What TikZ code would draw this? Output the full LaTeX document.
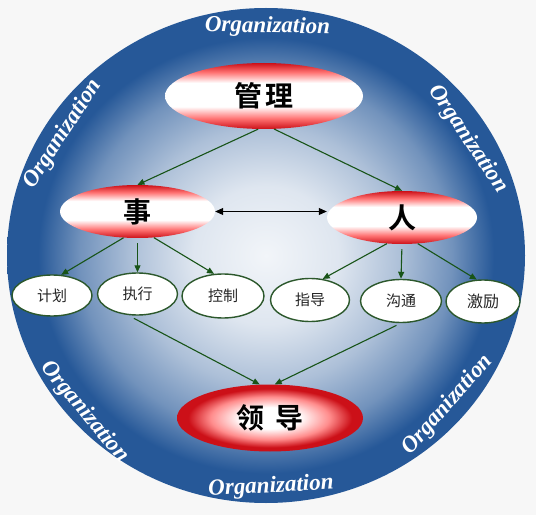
\documentclass[tikz,border=0pt]{standalone}
\usepackage{fontspec}
\usetikzlibrary{shapes.geometric}
\usetikzlibrary{arrows.meta}
\newfontfamily\cjk{Noto Sans CJK SC}
\newfontfamily\cjkbf{Noto Sans CJK SC Bold}
\newfontfamily\orgfont{Liberation Serif}

\definecolor{ringblue}{RGB}{38,88,152}
\definecolor{deepred}{RGB}{204,16,24}
\definecolor{linkgreen}{RGB}{24,84,24}
\definecolor{rimgreen}{RGB}{44,88,44}
\definecolor{bggray}{RGB}{247,247,247}

\pgfdeclareradialshading{globe}{\pgfpoint{0bp}{0bp}}{color(0bp)=(white!94!ringblue); color(7bp)=(white!85!ringblue); color(13bp)=(white!62!ringblue); color(18bp)=(white!35!ringblue); color(22bp)=(ringblue); color(25bp)=(ringblue); color(50bp)=(ringblue)}
\pgfdeclareverticalshading{redband}{100bp}{color(0bp)=(deepred); color(25bp)=(deepred); color(33bp)=(red!55!white); color(42bp)=(white); color(60bp)=(white); color(68bp)=(red!55!white); color(75bp)=(deepred); color(100bp)=(deepred)}
\pgfdeclareradialshading{redglow}{\pgfpoint{0bp}{0bp}}{color(0bp)=(white); color(8bp)=(white); color(16bp)=(red!45!white); color(22bp)=(deepred); color(25bp)=(deepred); color(50bp)=(deepred)}

\tikzset{
  bigoval/.style={ellipse, shade, shading=redband, inner sep=0pt, font=\cjkbf\fontsize{28}{28}\selectfont},
  leafoval/.style={ellipse, draw=rimgreen, line width=1.4pt, fill=white, inner sep=0pt, text=black!85, font=\cjk\fontsize{15}{15}\selectfont},
  link/.style={linkgreen, line width=1.1pt, -{Triangle[length=7pt,width=6pt]}},
  orglabel/.style={text=white, font=\orgfont\bfseries\itshape\fontsize{23}{23}\selectfont}
}

\begin{document}
\begin{tikzpicture}[x=1pt,y=1pt]
\useasboundingbox (0,0) rectangle (536,515);
\fill[bggray] (0,0) rectangle (536,515);
\shade[shading=globe] (266,259.5) ellipse (259 and 247.5);

\node[orglabel, rotate=-1] (orgtop) at (267.5,488) {Organization};
\node[orglabel, rotate=57] (orgul) at (63,381) {Organization};
\node[orglabel, rotate=-56] (orgur) at (468,376) {Organization};
\node[orglabel, rotate=-50] (orgll) at (84.5,103) {Organization};
\node[orglabel, rotate=48.5] (orglr) at (447.5,110) {Organization};
\node[orglabel, rotate=3] (orgbot) at (271,28) {Organization};

\node[bigoval, minimum width=198pt, minimum height=66pt] (guanli) at (264,419) {管\hspace{3pt}理};
\node[bigoval, minimum width=155pt, minimum height=53pt] (shi) at (137.5,303.5) {事};
\node[bigoval, minimum width=150pt, minimum height=53pt] (ren) at (402,297.5) {人};
\node[bigoval, shading=redglow, minimum width=186pt, minimum height=67pt] (lingdao) at (270,97) {领\hspace{11pt}导};

\node[leafoval, minimum width=80pt, minimum height=41pt] (jihua) at (52,219.5) {计划};
\node[leafoval, minimum width=80pt, minimum height=42pt] (zhixing) at (137.5,221) {执行};
\node[leafoval, minimum width=82pt, minimum height=44pt] (kongzhi) at (223,219) {控制};
\node[leafoval, minimum width=79pt, minimum height=43pt] (zhidao) at (310,215) {指导};
\node[leafoval, minimum width=81pt, minimum height=43pt] (goutong) at (401,214) {沟通};
\node[leafoval, minimum width=74pt, minimum height=43pt, font=\cjk\fontsize{16}{16}\selectfont] (jili) at (483,213.5) {激励};

\draw[link] (guanli.-100) -- (shi.north);
\draw[link] (guanli.-73) -- (ren.north);
\draw[black, line width=1pt, {Triangle[length=8pt,width=7pt]}-{Triangle[length=8pt,width=7pt]}] (shi.east) -- (shi.east -| ren.west);

\draw[link] (shi.242) -- (jihua.66);
\draw[link, shorten <=5pt] (shi.south) -- (zhixing.north);
\draw[link] (shi.302) -- (kongzhi.112);
\draw[link] (ren.240) -- (zhidao.59);
\draw[link, shorten <=5pt] (ren.south) -- (goutong.north);
\draw[link] (ren.301) -- (jili.106);

\draw[link, shorten <=7pt] (zhixing.245) -- (lingdao.107);
\draw[link, shorten <=5pt] (goutong.south) -- (lingdao.82);
\end{tikzpicture}
\end{document}
